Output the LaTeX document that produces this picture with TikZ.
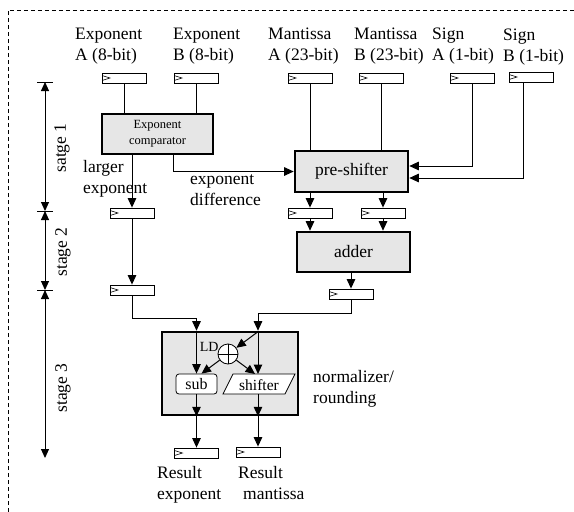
\documentclass[tikz,border=0pt]{standalone}
\usepackage{fontspec}
\setmainfont{Liberation Serif}
\usetikzlibrary{arrows.meta}
\definecolor{boxgray}{HTML}{E6E6E6}
\begin{document}
\begin{tikzpicture}[x=1pt,y=-1pt,
  lbl/.style={font=\fontsize{17.5}{21.5}\selectfont, align=left, inner sep=0pt},
  reg/.style={draw, line width=0.8pt, minimum width=44pt, minimum height=10pt, inner sep=0pt,
    path picture={\draw[line width=0.6pt] ([yshift=2.5pt]path picture bounding box.west) -- ([xshift=8pt]path picture bounding box.west) -- ([yshift=-2.5pt]path picture bounding box.west);}},
  unit/.style={draw, line width=2.6pt, fill=boxgray, inner sep=0pt, font=\fontsize{17.5}{21.5}\selectfont},
  arr/.style={line width=1pt, -{Triangle[length=9.5pt,width=8.5pt]}},
  wire/.style={line width=1pt},
  stagearr/.style={line width=1pt},
  tick/.style={line width=1pt}
]
\useasboundingbox (0,0) rectangle (574,512);
% dashed frame
\draw[dashed, dash pattern=on 4pt off 3pt, line width=0.8pt] (8,512) -- (8,10) -- (574,10);

% input labels
\node[lbl, anchor=west] (tEA) at (75,46) {Exponent\\A (8-bit)};
\node[lbl, anchor=west] (tEB) at (173,46) {Exponent\\B (8-bit)};
\node[lbl, anchor=west] (tMA) at (268,46) {Mantissa\\A (23-bit)};
\node[lbl, anchor=west] (tMB) at (354,46) {Mantissa\\B (23-bit)};
\node[lbl, anchor=west] (tSA) at (432,46) {Sign\\A (1-bit)};
\node[lbl, anchor=west] (tSB) at (503,47) {Sign\\B (1-bit)};

% input registers
\node[reg] (rA) at (124,78) {};
\node[reg] (rB) at (196,78) {};
\node[reg] (rMA) at (310,78) {};
\node[reg] (rMB) at (381,78) {};
\node[reg] (rSA) at (472,78) {};
\node[reg] (rSB) at (531,77) {};

% units
\node[unit, minimum width=111pt, minimum height=40pt, align=center, font=\fontsize{12.5}{16}\selectfont] (comp) at (157.5,134) {Exponent\\comparator};
\node[unit, minimum width=113pt, minimum height=41pt] (pre) at (351.5,171.5) {pre-shifter};
\node[unit, minimum width=113pt, minimum height=40pt] (adder) at (353.5,252) {adder};
\node[unit, minimum width=136pt, minimum height=83pt] (norm) at (230,373.5) {};

% stage 2/3 registers
\node[reg] (rLE) at (132,213) {};
\node[reg] (rP1) at (310,213) {};
\node[reg] (rP2) at (383,213) {};
\node[reg] (rLE2) at (132,290) {};
\node[reg] (rAd) at (351,294) {};
\node[reg] (rRE) at (196.5,453) {};
\node[reg] (rRM) at (258,452) {};

% inner normalizer elements
\node[draw, line width=0.8pt, fill=white, rounded corners=3pt, minimum width=41pt, minimum height=20pt, inner sep=0pt, font=\fontsize{16}{18}\selectfont] (sub) at (196.5,384) {sub};
\draw[line width=0.8pt, fill=white] (233,374) -- (295,374) -- (285,394) -- (223,394) -- cycle;
\node[inner sep=0pt, font=\fontsize{15.5}{18}\selectfont] (shf) at (259,385) {shifter};
\coordinate (shtop) at (258,374);
\coordinate (shbot) at (258,394);
\node[draw, circle, line width=0.8pt, fill=white, minimum size=20pt, inner sep=0pt,
  path picture={\draw[line width=0.8pt] (path picture bounding box.north) -- (path picture bounding box.south) (path picture bounding box.west) -- (path picture bounding box.east);}] (ld) at (228,354) {};
\node[inner sep=0pt, anchor=east, font=\fontsize{14}{16}\selectfont] (ldl) at ([xshift=-2pt]ld.north west) {LD};

% annotations
\node[lbl, anchor=west] (tLE) at (83,179) {larger\\exponent};
\node[lbl, anchor=west] (tED) at (190,190) {exponent\\difference};
\node[lbl, anchor=west] (tNR) at (313,389) {normalizer/\\rounding};
\node[lbl, anchor=north west] (tRE) at (157,466) {Result\\exponent};
\node[lbl, anchor=north west] (tRM) at (238,466) {Result\\\hspace*{5pt}mantissa};

% wires stage 1
\draw[wire] (rA.south) -- (rA.south |- comp.north);
\draw[wire] (rB.south) -- (rB.south |- comp.north);
\draw[arr] (rLE.north |- comp.south) -- (rLE.north);
\draw[arr] ([xshift=15.5pt]comp.south) |- (pre.west);
\draw[wire] (rMA.south) -- (rMA.south |- pre.north);
\draw[wire] (rMB.south) -- (rMB.south |- pre.north);
\draw[arr] (rSA.south) |- ([yshift=5.5pt]pre.east);
\draw[arr] ([xshift=-8pt]rSB.south) |- ([yshift=-6.5pt]pre.east);
\draw[arr] (rP1.north |- pre.south) -- (rP1.north);
\draw[arr] (rP2.north |- pre.south) -- (rP2.north);

% stage 2
\draw[arr] (rP1.south) -- (rP1.south |- adder.north);
\draw[arr] (rP2.south) -- (rP2.south |- adder.north);
\draw[arr] (rAd.north |- adder.south) -- (rAd.north);
\draw[arr] (rLE.south) -- (rLE2.north);

% stage 3
\coordinate (jl) at (132,318);
\coordinate (jr) at (258,313);
\draw[arr] (rLE2.south) -- (jl) -| (sub.north |- norm.north);
\draw[arr] (sub.north |- norm.north) -- (sub.north);
\draw[wire] (rAd.south) |- (jr);
\draw[arr] (jr) -- (jr |- norm.north);
\draw[arr] (jr |- norm.north) -- (shtop);
\draw[arr] ([yshift=-1pt]jr |- norm.north) -- (ld);
\draw[arr] (ld) -- ([xshift=5pt]sub.north);
\draw[arr] (ld) -- ([xshift=-3pt]shtop);
\draw[arr] (sub.south) -- (sub.south |- norm.south);
\draw[arr] (sub.south |- norm.south) -- (rRE.north);
\draw[arr] (shbot) -- (shbot |- norm.south);
\draw[arr] (shbot |- norm.south) -- (rRM.north);

% stage arrows
\coordinate (s0) at (45,82);
\coordinate (s1) at (45,211);
\coordinate (s2) at (45,290);
\coordinate (s3) at (45,458);
\draw[tick] ([xshift=-8pt]s0) -- ([xshift=8pt]s0);
\draw[tick] ([xshift=-8pt]s1) -- ([xshift=8pt]s1);
\draw[tick] ([xshift=-8pt]s2) -- ([xshift=8pt]s2);
\draw[stagearr, {Triangle[length=9pt,width=8pt]}-{Triangle[length=9pt,width=8pt]}] (s0) -- (s1);
\draw[stagearr, {Triangle[length=9pt,width=8pt]}-{Triangle[length=9pt,width=8pt]}] (s1) -- (s2);
\draw[stagearr, {Triangle[length=9pt,width=8pt]}-{Triangle[length=9pt,width=8pt]}] (s2) -- (s3);
\node[lbl, rotate=90] (st1) at (62,148) {satge 1};
\node[lbl, rotate=90] (st2) at (63,252) {stage 2};
\node[lbl, rotate=90] (st3) at (63,388) {stage 3};
\end{tikzpicture}
\end{document}
